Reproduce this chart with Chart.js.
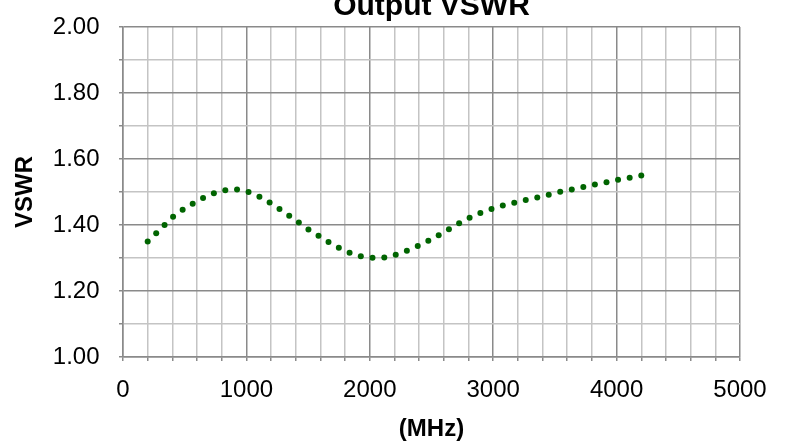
<!DOCTYPE html>
<html>
<head>
<meta charset="utf-8">
<script src="https://cdn.jsdelivr.net/npm/chart.js@4/dist/chart.umd.min.js"></script>
<style>
    html, body { margin: 0; padding: 0; background: #fff; }
    canvas { display: block; }
</style>
</head>
<body>
<canvas id="chart" width="786" height="444"></canvas>
<script>
// frequency (MHz) and VSWR
const freqs = [200, 300, 400, 500, 600, 700, 800, 900, 1000, 1100, 1200, 1300, 1400, 1500,
    1600, 1700, 1800, 1900, 2000, 2100, 2200, 2300, 2400, 2500, 2600, 2700, 2800, 2900,
    3000, 3100, 3200, 3300, 3400, 3500, 3600, 3700, 3800, 3900, 4000, 4100, 4200]
const vswr = [1.350, 1.386, 1.423, 1.450, 1.472, 1.491, 1.503, 1.508, 1.502, 1.487, 1.465,
    1.440, 1.414, 1.387, 1.364, 1.341, 1.322, 1.308, 1.301, 1.301, 1.309, 1.322, 1.338,
    1.357, 1.378, 1.400, 1.420, 1.437, 1.450, 1.461, 1.470, 1.479, 1.487, 1.497, 1.505,
    1.513, 1.521, 1.528, 1.536, 1.543, 1.550]

const xMin = 0, xMax = 5000, xMinor = 200, xMajor = 1000
const yMin = 1.0, yMax = 2.0, yMinor = 0.1, yMajor = 0.2

const chartTitle = "Output VSWR"
const xTitle = "(MHz)"
const yTitle = "VSWR"

const fontFamily = "'Liberation Sans', Arial, sans-serif"
const majorColor = "#8a8a8a"
const minorColor = "#c4c4c4"
const dotGap = 11.8

const isMajorX = v => Math.round(v) % xMajor === 0
const isMajorY = v => Math.round(v * 10) % 2 === 0

// title centred over the plot area, clipped at the top like the original
const topTitle = {
    id: "topTitle",
    afterDraw(chart) {
        const { ctx, chartArea } = chart
        ctx.save()
        ctx.font = "bold 30px " + fontFamily
        ctx.fillStyle = "#000"
        ctx.textAlign = "center"
        ctx.textBaseline = "alphabetic"
        ctx.fillText(chartTitle, (chartArea.left + chartArea.right) / 2, 15)
        ctx.restore()
    }
}

// Excel style round-dot line: dots evenly spaced along the library's curve,
// spacing stretched a little so a dot sits on both ends
const dottedCurve = {
    id: "dottedCurve",
    beforeDatasetDraw(chart, args) {
        const line = args.meta.dataset
        const pts = args.meta.data
        line.updateControlPoints(chart.chartArea, "x")

        // sample the bezier segments
        const samples = [{ x: pts[0].x, y: pts[0].y, s: 0 }]
        let len = 0
        for (let i = 0; i < pts.length - 1; i++) {
            const a = pts[i], b = pts[i + 1]
            const c1x = a.cp2x ?? a.x, c1y = a.cp2y ?? a.y
            const c2x = b.cp1x ?? b.x, c2y = b.cp1y ?? b.y
            for (let k = 1; k <= 40; k++) {
                const t = k / 40, u = 1 - t
                const x = u*u*u*a.x + 3*u*u*t*c1x + 3*u*t*t*c2x + t*t*t*b.x
                const y = u*u*u*a.y + 3*u*u*t*c1y + 3*u*t*t*c2y + t*t*t*b.y
                const prev = samples[samples.length - 1]
                len += Math.hypot(x - prev.x, y - prev.y)
                samples.push({ x, y, s: len })
            }
        }

        const n = Math.max(1, Math.round(len / dotGap))
        const step = len / n
        const r = line.options.borderWidth / 2
        const ctx = chart.ctx
        ctx.save()
        ctx.fillStyle = line.options.borderColor
        let j = 1
        for (let d = 0; d <= n; d++) {
            const target = Math.min(d * step, len)
            while (j < samples.length - 1 && samples[j].s < target) j++
            const p = samples[j - 1], q = samples[j]
            const f = q.s > p.s ? Math.max(0, Math.min(1, (target - p.s) / (q.s - p.s))) : 0
            ctx.beginPath()
            ctx.arc(p.x + (q.x - p.x) * f, p.y + (q.y - p.y) * f, r, 0, Math.PI * 2)
            ctx.fill()
        }
        ctx.restore()
        return false
    }
}

new Chart(document.getElementById("chart"), {
    type: "line",
    data: {
        datasets: [{
            label: yTitle,
            data: freqs.map((f, i) => ({ x: f, y: vswr[i] })),
            borderColor: "#006400",
            borderWidth: 6,
            cubicInterpolationMode: "monotone",
            pointRadius: 0,
            fill: false
        }]
    },
    options: {
        responsive: false,
        animation: false,
        devicePixelRatio: 1,
        layout: { padding: { top: 27, right: 46, bottom: 0, left: 0 } },
        plugins: {
            legend: { display: false },
            title: { display: false },
            tooltip: { enabled: false }
        },
        scales: {
            x: {
                type: "linear",
                min: xMin,
                max: xMax,
                afterFit: scale => { scale.height = 87 },
                ticks: {
                    stepSize: xMinor,
                    autoSkip: false,
                    maxRotation: 0,
                    padding: 14.5,
                    color: "#000",
                    font: { family: fontFamily, size: 24 },
                    callback: v => isMajorX(v) ? String(v) : ""
                },
                grid: {
                    color: ctx => isMajorX(ctx.tick.value) ? majorColor : minorColor,
                    lineWidth: 1.5,
                    tickLength: 4,
                    tickColor: majorColor
                },
                border: { color: majorColor, width: 1.5 },
                title: {
                    display: true,
                    text: xTitle,
                    color: "#000",
                    font: { family: fontFamily, size: 24, weight: "bold" },
                    padding: { top: 0, bottom: 0 }
                }
            },
            y: {
                min: yMin,
                max: yMax,
                afterFit: scale => {
                    scale.width = 123
                    scale.paddingTop = 0
                    scale.paddingBottom = 0
                },
                ticks: {
                    stepSize: yMinor,
                    autoSkip: false,
                    padding: 19.5,
                    color: "#000",
                    font: { family: fontFamily, size: 24 },
                    callback: v => isMajorY(v) ? v.toFixed(2) : ""
                },
                grid: {
                    color: ctx => isMajorY(ctx.tick.value) ? majorColor : minorColor,
                    lineWidth: 1.5,
                    tickLength: 4,
                    tickColor: majorColor
                },
                border: { color: majorColor, width: 1.5 },
                title: {
                    display: true,
                    text: yTitle,
                    color: "#000",
                    font: { family: fontFamily, size: 24, weight: "bold" },
                    padding: { top: 11, bottom: 0 }
                }
            }
        }
    },
    plugins: [topTitle, dottedCurve]
})
</script>
</body>
</html>
